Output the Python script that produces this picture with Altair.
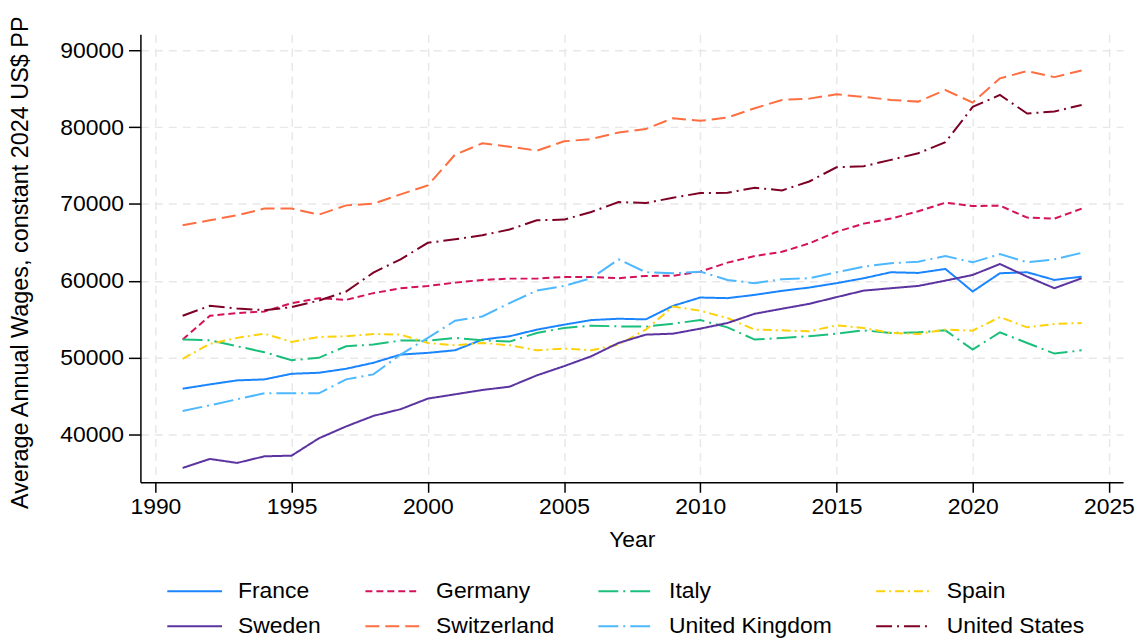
import altair as alt
import pandas as pd

years = list(range(1991, 2025))

countries = ["France", "Germany", "Italy", "Spain", "Sweden", "Switzerland",
             "United Kingdom", "United States"]

france = [45960, 46520, 47040, 47170, 47900, 48030, 48550, 49330, 50400, 50620, 50960, 52350,
          52780, 53640, 54290, 54890, 55060, 54980, 56740, 57820, 57740, 58170, 58690, 59120,
          59690, 60330, 61110, 61020, 61540, 58600, 60980, 61110, 60110, 60540]
germany = [52350, 55450, 55800, 56010, 57090, 57740, 57520, 58390, 59030, 59330, 59760, 60110,
           60280, 60280, 60500, 60500, 60330, 60630, 60650, 61190, 62360, 63220, 63770, 64860,
           66360, 67440, 68090, 69040, 70160, 69720, 69770, 68220, 68090, 69390]
italy = [52350, 52260, 51480, 50710, 49670, 49980, 51480, 51700, 52220, 52220, 52570, 52260,
         52090, 53210, 53860, 54160, 54070, 54030, 54420, 54890, 53940, 52350, 52570, 52780,
         53120, 53550, 53210, 53290, 53550, 51050, 53290, 51910, 50530, 50960]
spain = [49850, 51790, 52570, 53120, 52050, 52690, 52780, 53080, 52990, 51910, 51610, 51910,
         51610, 50960, 51180, 50960, 51700, 53640, 56650, 56100, 55150, 53640, 53550, 53420,
         54200, 53860, 53210, 53080, 53640, 53510, 55280, 53940, 54380, 54510]
sweden = [35650, 36820, 36300, 37160, 37250, 39500, 41050, 42420, 43290, 44670, 45230, 45790,
          46220, 47690, 48890, 50180, 51910, 52990, 53120, 53770, 54510, 55710, 56360, 57000,
          57870, 58720, 59030, 59330, 60020, 60760, 62180, 60540, 59030, 60330]
switzerland = [67230, 67870, 68520, 69390, 69390, 68610, 69810, 70030, 71240, 72400, 76410, 77880,
               77450, 76930, 78140, 78440, 79300, 79740, 81160, 80810, 81240, 82450, 83530, 83700,
               84260, 83920, 83530, 83310, 84820, 83190, 86340, 87280, 86500, 87370]
uk = [43070, 43800, 44580, 45360, 45360, 45360, 47170, 47820, 50400, 52570, 54800, 55360,
      57090, 58720, 59330, 60330, 62790, 61110, 60980, 61190, 60110, 59690, 60200, 60330,
      61110, 61840, 62280, 62490, 63220, 62400, 63470, 62400, 62790, 63640]
us = [55450, 56740, 56400, 56180, 56570, 57430, 58600, 61060, 62790, 64940, 65400, 65930,
      66670, 67870, 67960, 68950, 70240, 70110, 70810, 71410, 71450, 72100, 71760, 72920,
      74770, 74900, 75730, 76590, 78020, 82620, 84180, 81760, 82020, 82880]

series = [france, germany, italy, spain, sweden, switzerland, uk, us]

colors = ["#1a85ff", "#d41159", "#1bbf7c", "#fdd20a", "#5b34a0", "#ff6e40", "#4db8ff", "#7d0025"]
dashes = [[1, 0], [7, 4], [20, 5, 2, 5], [9, 4, 2, 4], [1, 0], [14, 6], [20, 5, 2, 5], [16, 5, 2, 5]]

x_ticks = [1990, 1995, 2000, 2005, 2010, 2015, 2020, 2025]
y_ticks = [40000, 50000, 60000, 70000, 80000, 90000]

rows = []
for c, vals in zip(countries, series):
    for yr, v in zip(years, vals):
        rows.append({"Year": yr, "Wage": v, "Country": c})
df = pd.DataFrame(rows)

FONT = "Liberation Sans"


def make_legend():
    return alt.Legend(title=None, orient="none", legendX=26, legendY=547,
                      direction="horizontal", columns=4, columnPadding=43, rowPadding=10,
                      clipHeight=25,
                      symbolType="stroke", symbolSize=3025, symbolStrokeWidth=2,
                      labelOffset=15, labelFontSize=23, labelFont=FONT,
                      labelColor="#000000", labelLimit=0)


chart = alt.Chart(df).mark_line(strokeWidth=2).encode(
    x=alt.X("Year:Q",
            scale=alt.Scale(domain=[1989.45, 2025.52], nice=False, zero=False),
            axis=alt.Axis(values=x_ticks, format="d", title="Year",
                          tickSize=10, labelPadding=3, titleY=57, titleBaseline="middle")),
    y=alt.Y("Wage:Q",
            scale=alt.Scale(domain=[33780, 92070], nice=False, zero=False),
            axis=alt.Axis(values=y_ticks, format="d",
                          title="Average Annual Wages, constant 2024 US$ PP",
                          tickSize=12, labelPadding=5, titleFontSize=23.5,
                          titleX=-120, titleY=229, titleAlign="center",
                          titleBaseline="middle", titleAngle=-90)),
    color=alt.Color("Country:N",
                    scale=alt.Scale(domain=countries, range=colors),
                    legend=make_legend()),
    strokeDash=alt.StrokeDash("Country:N",
                              scale=alt.Scale(domain=countries, range=dashes),
                              legend=make_legend()),
).properties(
    width=987,
    height=450,
    autosize=alt.AutoSizeParams(type="none"),
    padding={"left": 133, "top": 25, "right": 14, "bottom": 160},
).configure_view(
    stroke=None
).configure_axis(
    labelFont=FONT, titleFont=FONT, labelFontSize=23, titleFontSize=23,
    labelColor="#000000", titleColor="#000000", titleFontWeight="normal",
    domainColor="#000000", domainWidth=1.5, tickColor="#000000", tickWidth=1.5,
    gridColor="#e8e8e8", gridDash=[8, 6], gridWidth=1.5,
)

chart.save("out.html", embed_options={"renderer": "svg", "actions": False})
